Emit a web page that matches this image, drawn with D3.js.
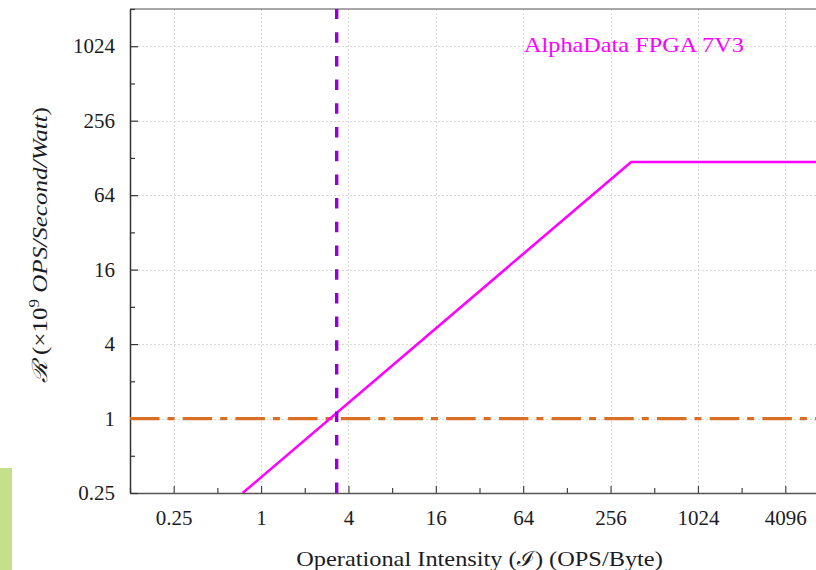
<!DOCTYPE html>
<html>
<head>
<meta charset="utf-8">
<script src="https://cdn.jsdelivr.net/npm/d3@7"></script>
<style>
  html, body { margin: 0; padding: 0; background: #fff; }
  svg { display: block; }
  text { font-family: "Liberation Serif", "DejaVu Serif", serif; fill: #1c1c24; white-space: pre; }
</style>
</head>
<body>
<svg id="chart" width="816" height="570"></svg>
<script>
// Roofline model for the AlphaData FPGA 7V3 board
const roofIntensity = [0.7468, 355, 8192];      // OPS/Byte
const roofEfficiency = [0.25, 118.8, 118.8];     // x10^9 OPS/Second/Watt
const appIntensity = [3.32];                     // application operating point
const baselineEfficiency = [1];                  // reference efficiency level
const xTickValues = [0.25, 1, 4, 16, 64, 256, 1024, 4096];
const yTickValues = [0.25, 1, 4, 16, 64, 256, 1024];
const xMinorValues = [0.125, 0.5, 2, 8, 32, 128, 512, 2048, 8192];
const yMinorValues = [0.5, 2, 8, 32, 128, 512, 2048];
const deviceName = "AlphaData FPGA 7V3";

const svg = d3.select("#chart");
const plot = { left: 130, top: 9, right: 829, bottom: 493 };

const x = d3.scaleLog().base(2).domain([0.125, 8192]).range([plot.left, plot.right]);
const y = d3.scaleLog().base(2).domain([0.25, 2048]).range([plot.bottom, plot.top]);

// Stretch a text element horizontally (in its own frame) so it spans `width`
function fitWidth(sel, width, anchorX, anchorY, rotate) {
  const w = sel.node().getBBox().width;
  const k = width / w;
  sel.attr("transform", `translate(${anchorX},${anchorY})${rotate ? " rotate(-90)" : ""} scale(${k},1)`);
}

// side strip at the lower left
svg.append("rect").attr("x", 0).attr("y", 468).attr("width", 12).attr("height", 102)
  .attr("fill", "#c5df8a");

svg.append("defs").append("clipPath").attr("id", "plotClip")
  .append("rect").attr("x", plot.left).attr("y", plot.top)
  .attr("width", plot.right - plot.left).attr("height", plot.bottom - plot.top);

// grid
const grid = svg.append("g").attr("stroke", "#d9d9d9").attr("stroke-width", 1)
  .attr("stroke-dasharray", "2,2");
grid.selectAll(".gx").data(xTickValues).join("line")
  .attr("x1", d => Math.round(x(d)) + 0.5).attr("x2", d => Math.round(x(d)) + 0.5)
  .attr("y1", plot.top).attr("y2", plot.bottom);
grid.selectAll(".gy").data(yTickValues).join("line")
  .attr("y1", d => Math.round(y(d)) + 0.5).attr("y2", d => Math.round(y(d)) + 0.5)
  .attr("x1", plot.left).attr("x2", plot.right);

// top frame
svg.append("line").attr("x1", plot.left).attr("x2", plot.right)
  .attr("y1", plot.top).attr("y2", plot.top)
  .attr("stroke", "#8a8a8a").attr("stroke-width", 1.6);

// axes (ticks point inward)
const xAxis = d3.axisBottom(x).tickValues(xTickValues).tickSizeInner(-7).tickSizeOuter(0)
  .tickPadding(17).tickFormat(d => String(d));
const gx = svg.append("g").attr("transform", `translate(0,${plot.bottom})`).call(xAxis);
gx.select(".domain").attr("stroke", "#555").attr("stroke-width", 1.5);
gx.selectAll(".tick line").attr("stroke", "#444").attr("stroke-width", 1.2);
gx.selectAll(".tick text").attr("font-size", 21).attr("fill", "#1c1c24")
  .attr("font-family", "Liberation Serif");
const gxMinor = svg.append("g").attr("transform", `translate(0,${plot.bottom})`)
  .call(d3.axisBottom(x).tickValues(xMinorValues).tickSizeInner(-5).tickSizeOuter(0).tickFormat(""));
gxMinor.select(".domain").remove();
gxMinor.selectAll(".tick line").attr("stroke", "#444").attr("stroke-width", 1.2);

const yAxis = d3.axisLeft(y).tickValues(yTickValues).tickSizeInner(-8).tickSizeOuter(0)
  .tickPadding(15).tickFormat(d => String(d));
const gy = svg.append("g").attr("transform", `translate(${plot.left},0)`).call(yAxis);
gy.select(".domain").attr("stroke", "#333").attr("stroke-width", 1.5);
gy.selectAll(".tick line").attr("stroke", "#333").attr("stroke-width", 1.2);
gy.selectAll(".tick text").attr("font-size", 21).attr("fill", "#1c1c24")
  .attr("font-family", "Liberation Serif");
const gyMinor = svg.append("g").attr("transform", `translate(${plot.left},0)`)
  .call(d3.axisLeft(y).tickValues(yMinorValues).tickSizeInner(-5).tickSizeOuter(0).tickFormat(""));
gyMinor.select(".domain").remove();
gyMinor.selectAll(".tick line").attr("stroke", "#333").attr("stroke-width", 1.2);

const marks = svg.append("g").attr("clip-path", "url(#plotClip)");

// reference efficiency level (dash-dot)
marks.selectAll(".base").data(baselineEfficiency).join("line")
  .attr("x1", plot.left).attr("x2", plot.right)
  .attr("y1", d => y(d)).attr("y2", d => y(d))
  .attr("stroke", "#d96f27").attr("stroke-width", 3.2)
  .attr("stroke-dasharray", "29.5,8,7,8.2");

// roofline
const roof = roofIntensity.map((v, i) => [v, roofEfficiency[i]]);
marks.append("path").datum(roof)
  .attr("d", d3.line().x(d => x(d[0])).y(d => y(d[1])))
  .attr("fill", "none").attr("stroke", "#ff00ff").attr("stroke-width", 2.6)
  .attr("stroke-linejoin", "miter");

// application intensity (dashed vertical)
marks.selectAll(".app").data(appIntensity).join("line")
  .attr("x1", d => x(d)).attr("x2", d => x(d))
  .attr("y1", plot.bottom).attr("y2", plot.top)
  .attr("stroke", "#9400d3").attr("stroke-width", 3.4)
  .attr("stroke-dasharray", "10.5,13.2");

// device label
const dev = svg.append("text").attr("x", 0).attr("y", 0)
  .attr("font-size", 21).style("fill", "#ff00ff").text(deviceName);
fitWidth(dev, 220, 524, 51.5, false);

// axis titles
const xt = svg.append("text").attr("text-anchor", "middle")
  .attr("font-size", 21).text("Operational Intensity (ℐ) (OPS/Byte)");
fitWidth(xt, 367, 479.5, 566, false);

const yt = svg.append("text").attr("text-anchor", "middle").attr("font-size", 21);
yt.append("tspan").attr("font-style", "italic").text("ℛ ");
yt.append("tspan").text("(×10");
yt.append("tspan").attr("font-size", 14).attr("dy", -8).text("9");
yt.append("tspan").attr("dy", 8).text(" ");
yt.append("tspan").attr("font-style", "italic").text("OPS/Second/Watt");
yt.append("tspan").text(")");
fitWidth(yt, 276, 47, 245, true);
</script>
</body>
</html>
